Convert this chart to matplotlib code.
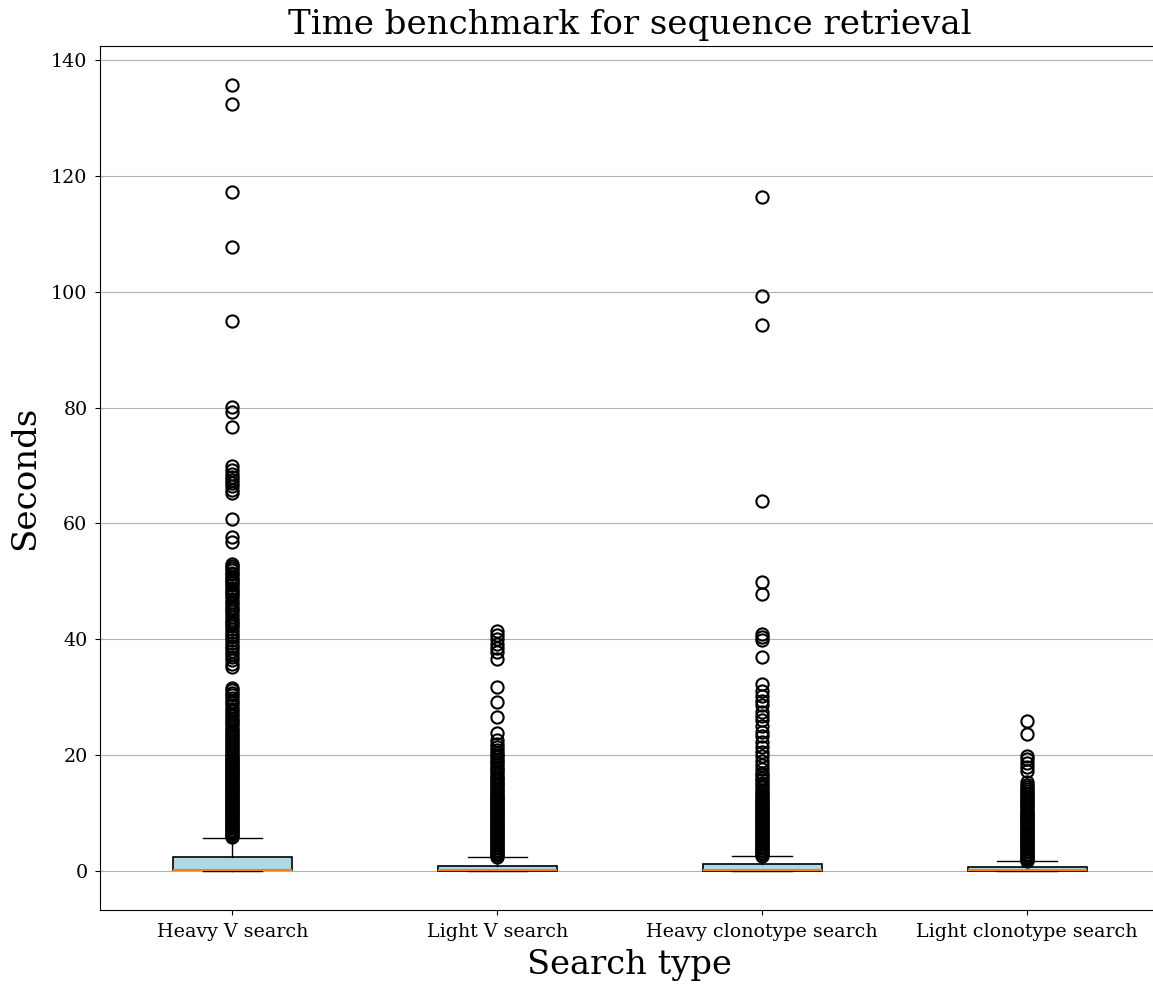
import matplotlib
matplotlib.use("Agg")
import matplotlib.pyplot as plt

# search types on the x axis
categories = ["Heavy V search", "Light V search", "Heavy clonotype search", "Light clonotype search"]

# box statistics (seconds)
q1 = [0.05, 0.0, 0.0, 0.0]
med = [0.12, 0.08, 0.1, 0.07]
q3 = [2.3, 0.85, 1.15, 0.62]
whislo = [0.0, 0.0, 0.0, 0.0]
whishi = [5.6, 2.3, 2.5, 1.6]

# outliers (the low ones are so many they merge into a solid column)
heavy_v_fliers = [5.8, 6.05, 6.3, 6.55, 6.8, 7.05, 7.3, 7.55, 7.8, 8.05, 8.3, 8.55, 8.8,
                  9.05, 9.3, 9.55, 9.8, 10.05, 10.3, 10.55, 10.8, 11.05, 11.3, 11.55, 11.8,
                  12.05, 12.3, 12.55, 12.8, 13.05, 13.3, 13.55, 13.8, 14.05, 14.3, 14.55,
                  14.8, 15.05, 15.3, 15.55, 15.8, 16.05, 16.3, 16.55, 16.8, 17.05, 17.3,
                  17.55, 17.8, 18.05, 18.3, 18.55, 18.8, 19.05, 19.3, 19.55, 19.8,
                  20.1, 20.45, 20.8, 21.2, 21.5, 21.9, 22.2, 22.6, 22.9, 23.3, 23.6, 24.0,
                  24.4, 24.7, 25.1, 25.5, 25.9, 26.3, 26.7, 27.1, 27.6, 28.0, 28.5, 28.9,
                  29.4, 29.8, 30.3, 30.7, 31.2, 31.6,
                  35.2, 35.8, 36.4, 37.0, 37.5, 37.9, 38.4, 38.9, 39.4, 39.8, 40.3, 40.8,
                  41.3, 41.8, 42.2, 42.6, 43.0, 43.4, 43.9, 44.4, 44.8, 45.2, 45.6, 46.0,
                  46.5, 46.9, 47.4, 47.8, 48.2, 48.5, 48.9, 49.3, 49.7, 50.0, 50.4, 50.8,
                  51.2, 51.5, 51.9, 52.3, 52.7, 53.0,
                  56.8, 57.7, 60.7, 65.2, 65.8, 66.5, 67.0, 67.5, 68.0, 68.5, 69.2, 70.0,
                  76.6, 79.3, 80.2, 94.9, 107.8, 117.3, 132.4, 135.7]
light_v_fliers = [2.4, 2.65, 2.9, 3.15, 3.4, 3.65, 3.9, 4.15, 4.4, 4.65, 4.9, 5.15, 5.4,
                  5.65, 5.9, 6.15, 6.4, 6.65, 6.9, 7.15, 7.4, 7.65, 7.9, 8.15, 8.4, 8.65,
                  8.9, 9.15, 9.4, 9.65, 9.9, 10.15, 10.4, 10.65, 10.9, 11.15, 11.4, 11.65,
                  11.9, 12.15, 12.4, 12.65, 12.9, 13.15, 13.4, 13.7, 14.0, 14.3, 14.6,
                  14.9, 15.2, 15.5, 15.8, 16.1, 16.4, 16.8, 17.2, 17.6, 18.0, 18.4, 18.8,
                  19.2, 19.6, 20.0, 20.4, 20.9, 21.4, 21.9, 22.6, 23.8, 26.6, 29.1, 31.8,
                  36.5, 37.8, 38.5, 39.2, 40.0, 40.8, 41.5]
heavy_clono_fliers = [2.6, 2.85, 3.1, 3.35, 3.6, 3.85, 4.1, 4.35, 4.6, 4.85, 5.1, 5.35,
                      5.6, 5.85, 6.1, 6.35, 6.6, 6.85, 7.1, 7.35, 7.6, 7.85, 8.1, 8.35,
                      8.6, 8.85, 9.1, 9.35, 9.6, 9.85, 10.1, 10.35, 10.6, 10.85, 11.1,
                      11.4, 11.7, 12.0, 12.3, 12.6, 12.9, 13.2, 13.6, 14.0, 14.4, 14.8,
                      15.2, 15.6, 16.0, 16.5, 16.9, 17.5, 18.3, 19.0, 19.8, 20.6, 21.4,
                      22.3, 23.2, 24.0, 25.0, 26.0, 26.8, 27.5, 28.6, 29.4, 30.2, 31.0,
                      32.2, 37.0, 39.8, 40.3, 40.9, 47.8, 49.9, 63.8, 94.3, 99.3, 116.4]
light_clono_fliers = [1.7, 1.95, 2.2, 2.45, 2.7, 2.95, 3.2, 3.45, 3.7, 3.95, 4.2, 4.45,
                      4.7, 4.95, 5.2, 5.45, 5.7, 5.95, 6.2, 6.45, 6.7, 6.95, 7.2, 7.45,
                      7.7, 7.95, 8.2, 8.45, 8.7, 8.95, 9.2, 9.45, 9.7, 9.95, 10.2, 10.5,
                      10.8, 11.1, 11.4, 11.7, 12.0, 12.3, 12.6, 12.9, 13.2, 13.5, 13.8,
                      14.1, 14.4, 14.8, 15.4, 17.3, 17.9, 18.6, 19.3, 19.9, 23.6, 25.8]
fliers = [heavy_v_fliers, light_v_fliers, heavy_clono_fliers, light_clono_fliers]

stats = []
for i in range(len(categories)):
    stats.append(dict(label=categories[i], q1=q1[i], med=med[i], q3=q3[i],
                      whislo=whislo[i], whishi=whishi[i], fliers=fliers[i]))

plt.rcParams['font.family'] = 'DejaVu Serif'

fig = plt.figure(figsize=(11.53, 9.84), dpi=100)
ax = fig.add_axes([0.0867, 0.0752, 0.919, 0.878])

ax.bxp(stats, widths=0.45, patch_artist=True,
       boxprops=dict(facecolor='lightblue', edgecolor='black', linewidth=1.2),
       medianprops=dict(color='#ff7f0e', linewidth=1.5),
       flierprops=dict(marker='o', markersize=8.8, markerfacecolor='none',
                       markeredgecolor='black', markeredgewidth=1.5))

ax.yaxis.grid(True, color='#b0b0b0')
ax.set_axisbelow(True)
ax.spines['right'].set_visible(False)
ax.set_xlim(0.5, 4.5)

ax.set_title("Time benchmark for sequence retrieval", fontsize=24.5, pad=9)
ax.set_xlabel("Search type", fontsize=24.3, labelpad=6)
ax.set_ylabel("Seconds", fontsize=24.5, labelpad=7)
ax.tick_params(axis='x', labelsize=13.7, pad=5.5)
ax.tick_params(axis='y', labelsize=13.7, pad=5.5)

plt.savefig("out.png", dpi=100)
